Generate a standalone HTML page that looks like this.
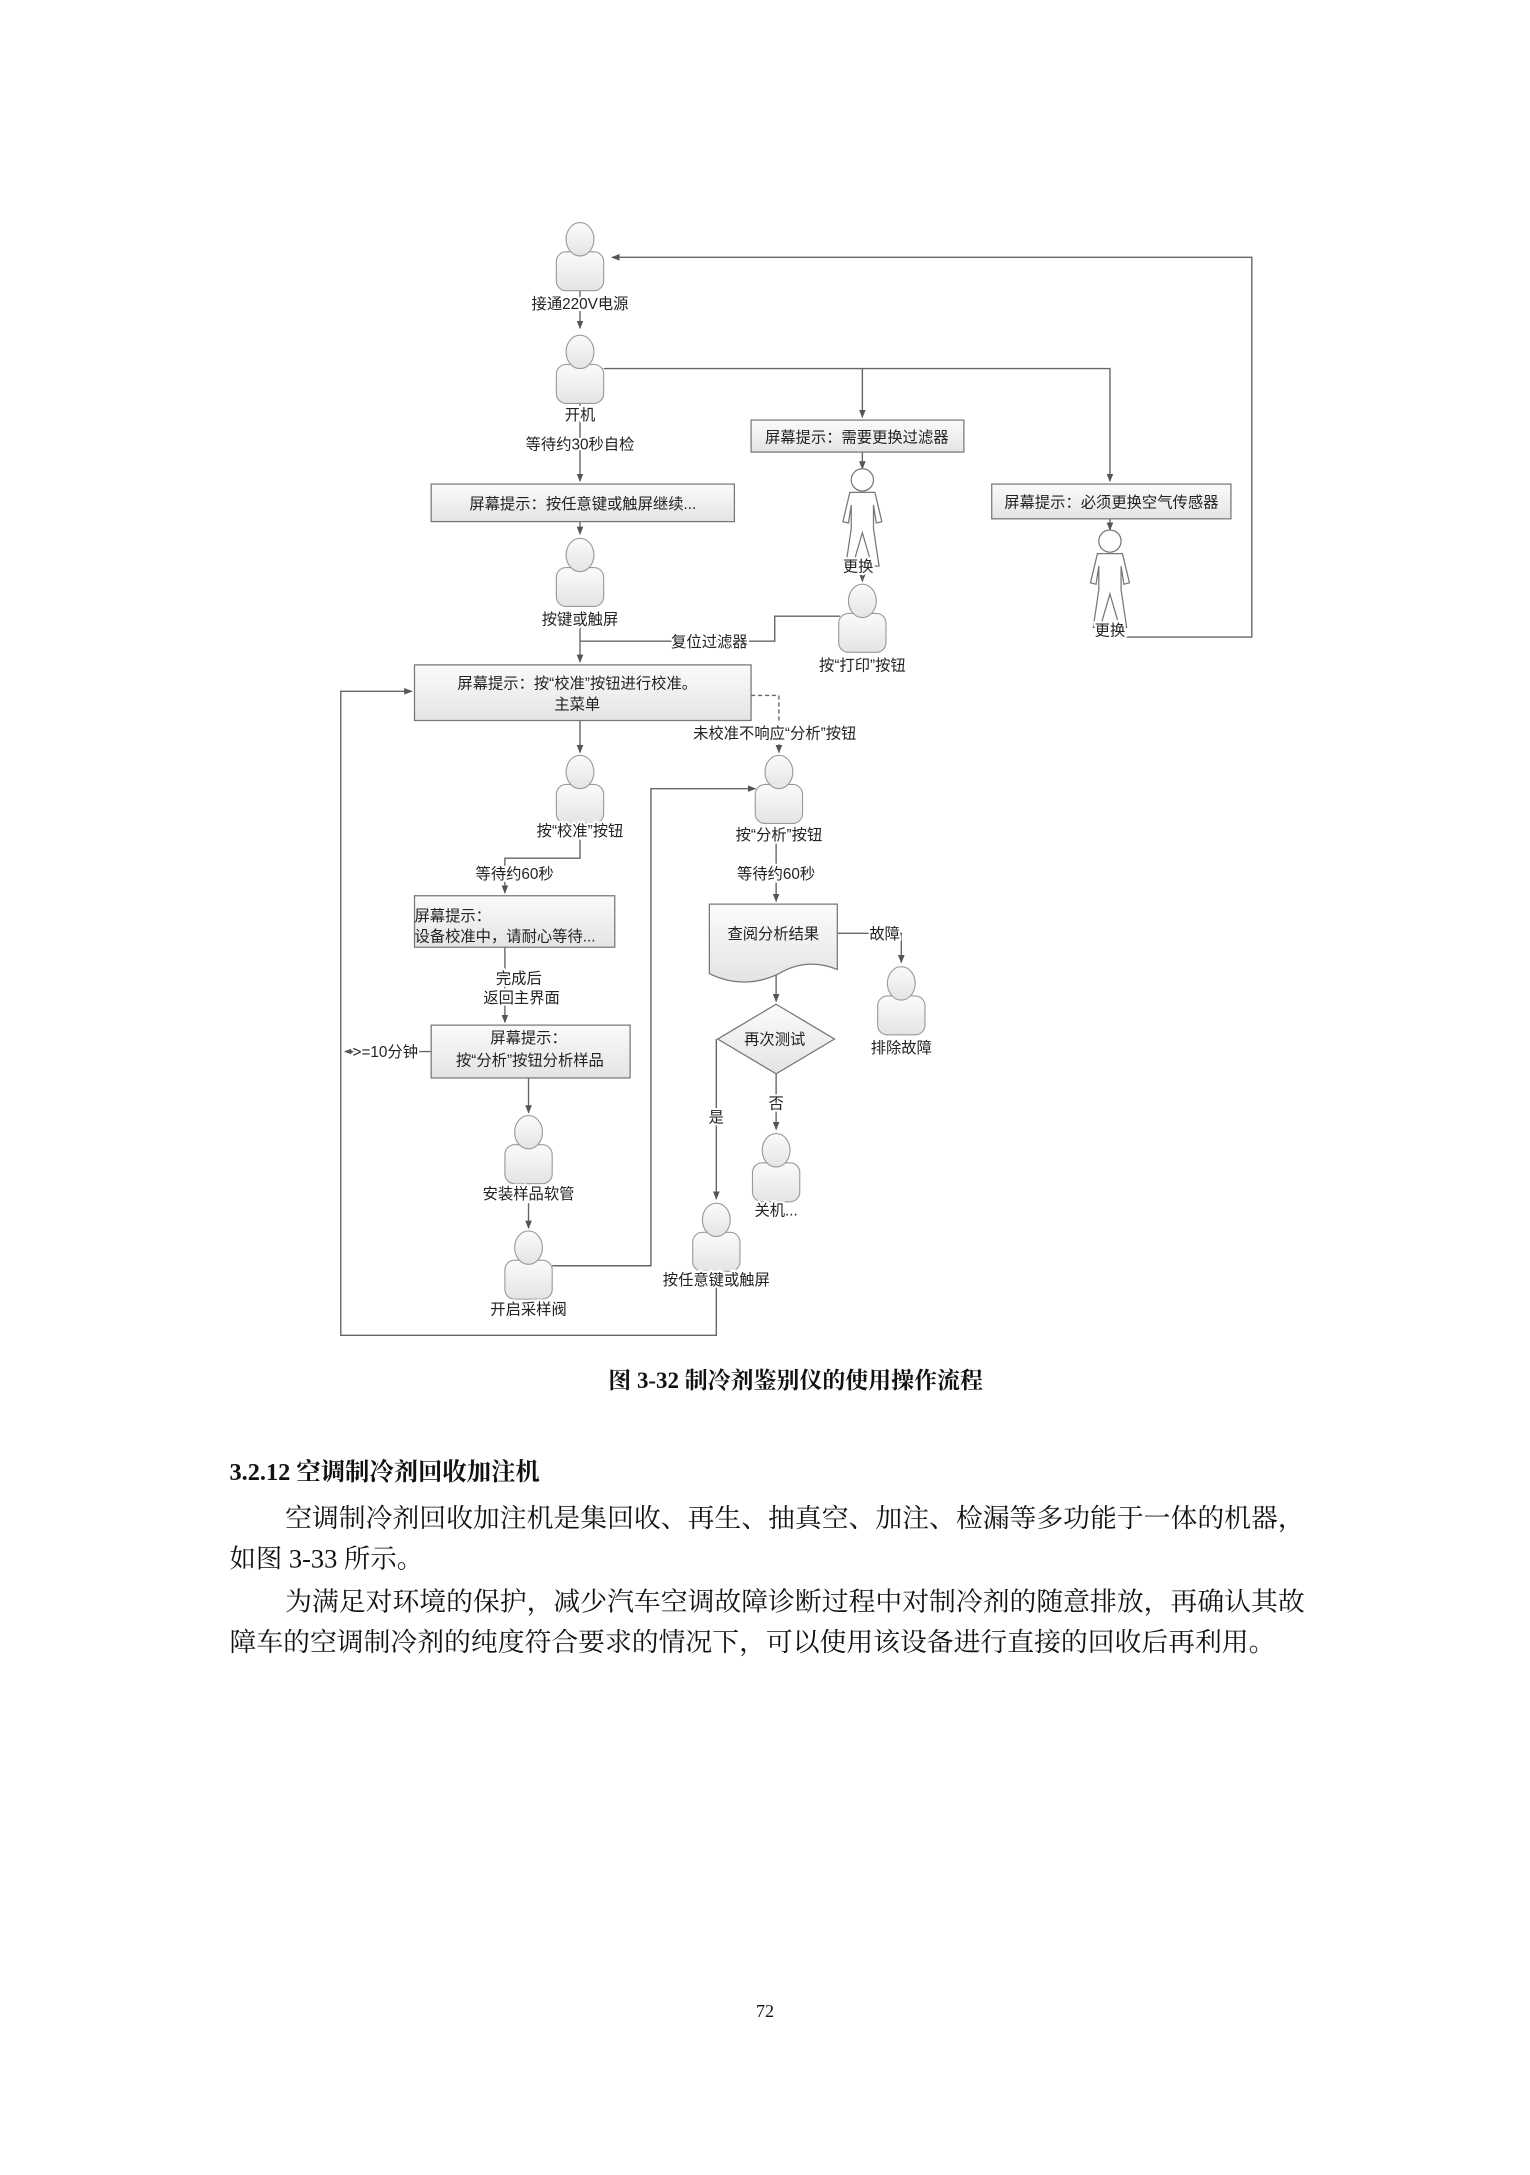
<!DOCTYPE html>
<html><head><meta charset="utf-8">
<style>
html,body{margin:0;padding:0;background:#fff;}
svg{display:block;}
.t{font-family:"Liberation Sans","Noto Sans CJK SC",sans-serif;font-size:11px;fill:#222;}
.t text{stroke:#fff;stroke-width:3;paint-order:stroke;}
.b{font-family:"Liberation Serif","Noto Serif CJK SC",serif;fill:#111;}
</style></head><body>
<svg width="1530" height="2175" viewBox="0 0 1100 1563.7" xmlns="http://www.w3.org/2000/svg">
<defs>
<linearGradient id="g" x1="0" y1="0" x2="0" y2="1"><stop offset="0" stop-color="#fbfbfb"/><stop offset="1" stop-color="#e4e4e4"/></linearGradient>
<g id="p"><rect x="-17" y="9" width="34" height="28" rx="7" fill="url(#g)" stroke="#999" stroke-width="0.8"/><ellipse cx="0" cy="0" rx="10" ry="12" fill="url(#g)" stroke="#999" stroke-width="0.8"/></g>
<g id="s" fill="#fff" stroke="#777" stroke-width="0.9"><circle cx="0" cy="0" r="8"/><path d="M-9,9 L9,9 L14,30 L10,31 L8,18 L8,35 L12,62 L7,62 L0,38 L-7,62 L-12,62 L-8,35 L-8,18 L-10,31 L-14,30 Z"/></g>
<marker id="a" viewBox="0 0 10 10" refX="9" refY="5" markerWidth="6" markerHeight="6" orient="auto"><path d="M0,1 L10,5 L0,9 Z" fill="#555"/></marker>
</defs>
<g stroke="#666" stroke-width="1" fill="none">
<line x1="417" y1="208" x2="417" y2="236" marker-end="url(#a)"/>
<line x1="417" y1="290" x2="417" y2="346" marker-end="url(#a)"/>
<polyline points="434,265 798,265 798,346" marker-end="url(#a)"/>
<line x1="620" y1="265" x2="620" y2="300" marker-end="url(#a)"/>
<line x1="620" y1="325" x2="620" y2="337" marker-end="url(#a)"/>
<line x1="620" y1="402" x2="620" y2="418" marker-end="url(#a)"/>
<line x1="798" y1="373" x2="798" y2="381" marker-end="url(#a)"/>
<polyline points="808,458 900,458 900,185 440,185" marker-end="url(#a)"/>
<line x1="417" y1="375" x2="417" y2="384" marker-end="url(#a)"/>
<line x1="417" y1="450" x2="417" y2="476" marker-end="url(#a)"/>
<polyline points="604,443 557,443 557,461 417,461"/>
<polyline points="540,500 560,500 560,541" stroke-dasharray="3,2" marker-end="url(#a)"/>
<line x1="417" y1="518" x2="417" y2="541" marker-end="url(#a)"/>
<polyline points="417,603 417,617 363,617 363,642" marker-end="url(#a)"/>
<line x1="363" y1="681" x2="363" y2="735" marker-end="url(#a)"/>
<polyline points="310,756 248,756" marker-end="url(#a)"/>
<line x1="380" y1="775" x2="380" y2="800" marker-end="url(#a)"/>
<line x1="380" y1="865" x2="380" y2="883" marker-end="url(#a)"/>
<polyline points="397,910 468,910 468,567 543,567" marker-end="url(#a)"/>
<line x1="558" y1="605" x2="558" y2="648" marker-end="url(#a)"/>
<polyline points="602,671 648,671 648,692" marker-end="url(#a)"/>
<line x1="558" y1="700" x2="558" y2="720" marker-end="url(#a)"/>
<line x1="558" y1="772" x2="558" y2="812" marker-end="url(#a)"/>
<polyline points="515,747 515,862" marker-end="url(#a)"/>
<polyline points="515,925 515,960 245,960 245,497 296,497" marker-end="url(#a)"/>
</g>
<g stroke="#777" stroke-width="0.9" fill="url(#g)">
<rect x="310" y="348" width="218" height="27"/>
<rect x="540" y="302" width="153" height="23"/>
<rect x="713" y="348" width="172" height="25"/>
<rect x="298" y="478" width="242" height="40"/>
<rect x="298" y="644" width="144" height="37"/>
<rect x="310" y="737" width="143" height="38"/>
<path d="M510,650 L602,650 L602,697 Q580,688 560,700 Q535,712 510,700 Z"/>
<path d="M558,722 L600,747 L558,772 L516,747 Z"/>
</g>
<use href="#p" x="417" y="172"/>
<use href="#p" x="417" y="253"/>
<use href="#p" x="417" y="399"/>
<use href="#p" x="620" y="432"/>
<use href="#p" x="417" y="555"/>
<use href="#p" x="560" y="555"/>
<use href="#p" x="648" y="707"/>
<use href="#p" x="558" y="827"/>
<use href="#p" x="380" y="814"/>
<use href="#p" x="380" y="897"/>
<use href="#p" x="515" y="877"/>
<use href="#s" x="620" y="345"/>
<use href="#s" x="798" y="389"/>
<g class="t" text-anchor="middle">
<text x="417" y="222">接通220V电源</text>
<text x="417" y="302">开机</text>
<text x="417" y="323">等待约30秒自检</text>
<text x="419" y="366" style="stroke:none">屏幕提示：按任意键或触屏继续...</text>
<text x="616" y="318" style="stroke:none">屏幕提示：需要更换过滤器</text>
<text x="617" y="411">更换</text>
<text x="799" y="365" style="stroke:none">屏幕提示：必须更换空气传感器</text>
<text x="798" y="457">更换</text>
<text x="417" y="449">按键或触屏</text>
<text x="510" y="465">复位过滤器</text>
<text x="620" y="482">按“打印”按钮</text>
<text x="415" y="495" style="stroke:none">屏幕提示：按“校准”按钮进行校准。</text>
<text x="415" y="510" style="stroke:none">主菜单</text>
<text x="557" y="531">未校准不响应“分析”按钮</text>
<text x="417" y="601">按“校准”按钮</text>
<text x="560" y="604">按“分析”按钮</text>
<text x="370" y="632">等待约60秒</text>
<text x="558" y="632">等待约60秒</text>
<text x="373" y="707">完成后</text>
<text x="375" y="721">返回主界面</text>
<text x="380" y="750" style="stroke:none">屏幕提示：</text>
<text x="381" y="766" style="stroke:none">按“分析”按钮分析样品</text>
<text x="277" y="760">&gt;=10分钟</text>
<text x="380" y="862">安装样品软管</text>
<text x="380" y="945">开启采样阀</text>
<text x="556" y="675" style="stroke:none">查阅分析结果</text>
<text x="636" y="675">故障</text>
<text x="648" y="757">排除故障</text>
<text x="557" y="751" style="stroke:none">再次测试</text>
<text x="558" y="797">否</text>
<text x="515" y="807">是</text>
<text x="558" y="874">关机...</text>
<text x="515" y="924">按任意键或触屏</text>
<text x="298" y="662" text-anchor="start" style="stroke:none">屏幕提示：</text>
<text x="298" y="677" text-anchor="start" style="stroke:none">设备校准中，请耐心等待...</text>
</g>
<g class="b">
<text x="572" y="998" text-anchor="middle" font-size="16.5" font-weight="bold">图 3-32 制冷剂鉴别仪的使用操作流程</text>
<text x="165" y="1064" font-size="17.5" font-weight="bold">3.2.12 空调制冷剂回收加注机</text>
<text x="205" y="1098" font-size="19" textLength="733" lengthAdjust="spacingAndGlyphs">空调制冷剂回收加注机是集回收、再生、抽真空、加注、检漏等多功能于一体的机器，</text>
<text x="165" y="1127" font-size="19">如图 3-33 所示。</text>
<text x="205" y="1158" font-size="19" textLength="733" lengthAdjust="spacingAndGlyphs">为满足对环境的保护，减少汽车空调故障诊断过程中对制冷剂的随意排放，再确认其故</text>
<text x="165" y="1187" font-size="19" textLength="752" lengthAdjust="spacingAndGlyphs">障车的空调制冷剂的纯度符合要求的情况下，可以使用该设备进行直接的回收后再利用。</text>
<text x="550" y="1450" text-anchor="middle" font-size="13">72</text>
</g>
</svg>
</body></html>
